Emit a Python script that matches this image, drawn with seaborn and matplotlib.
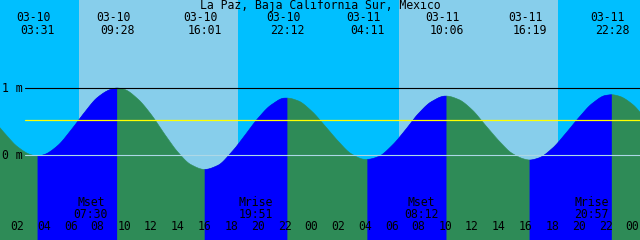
import numpy as np
import pandas as pd
import matplotlib
matplotlib.use("Agg")
import matplotlib.pyplot as plt
import matplotlib.transforms as mtransforms
import seaborn as sns

# ---------------- data ----------------
title = "La Paz, Baja California Sur, Mexico"

# hourly tide heights (m), hours since 03-10 00:00
hours = list(range(0, 50))
heights = [0.58, 0.34, 0.13, 0.01, 0.01, 0.14, 0.37, 0.63, 0.86, 0.98,
           0.98, 0.84, 0.61, 0.32, 0.05, -0.14, -0.21, -0.15, 0.04, 0.29,
           0.55, 0.75, 0.85, 0.81, 0.66, 0.44, 0.21, 0.02, -0.06, -0.02,
           0.14, 0.37, 0.62, 0.80, 0.88, 0.83, 0.68, 0.45, 0.22, 0.03,
           -0.06, -0.04, 0.10, 0.32, 0.56, 0.77, 0.89, 0.88, 0.76, 0.54]

# high / low tide events
event_dates = ["03-10", "03-10", "03-10", "03-10", "03-11", "03-11", "03-11", "03-11"]
event_times = ["03:31", "09:28", "16:01", "22:12", "04:11", "10:06", "16:19", "22:28"]
event_heights = [-0.01, 1.00, -0.21, 0.85, -0.06, 0.88, -0.07, 0.90]
event_kinds = ["L", "H", "L", "H", "L", "H", "L", "H"]

# sunrise / sunset
sun_dates = ["03-10", "03-10", "03-11", "03-11"]
sun_times = ["06:38", "18:30", "06:34", "18:26"]

# moon events
moon_labels = ["Mset", "Mrise", "Mset", "Mrise"]
moon_dates = ["03-10", "03-10", "03-11", "03-11"]
moon_times = ["07:30", "19:51", "08:12", "20:57"]

mean_level = 0.52
depth_levels = [0, 1]
depth_labels = ["0 m", "1 m"]
tick_hours = list(range(2, 49, 2))

# ---------------- helpers ----------------
day_offset = {"03-10": 0, "03-11": 24}


def to_hours(d, hm):
    hh, mm = hm.split(":")
    return day_offset[d] + int(hh) + int(mm) / 60.0


def pchip(x, y, xs):
    """Monotone cubic (Fritsch-Carlson) curve through the given points."""
    x = np.asarray(x, float)
    y = np.asarray(y, float)
    hk = np.diff(x)
    dk = np.diff(y) / hk
    n = len(x)
    d = np.zeros(n)
    for k in range(1, n - 1):
        if dk[k - 1] * dk[k] > 0:
            w1 = 2 * hk[k] + hk[k - 1]
            w2 = hk[k] + 2 * hk[k - 1]
            d[k] = (w1 + w2) / (w1 / dk[k - 1] + w2 / dk[k])
    d[0] = dk[0]
    d[-1] = dk[-1]
    idx = np.clip(np.searchsorted(x, xs) - 1, 0, n - 2)
    h = hk[idx]
    s = (xs - x[idx]) / h
    h00 = 2 * s**3 - 3 * s**2 + 1
    h10 = s**3 - 2 * s**2 + s
    h01 = -2 * s**3 + 3 * s**2
    h11 = s**3 - s**2
    return h00 * y[idx] + h10 * h * d[idx] + h01 * y[idx + 1] + h11 * h * d[idx + 1]


ev_t = [to_hours(d, t) for d, t in zip(event_dates, event_times)]
sun_t = [to_hours(d, t) for d, t in zip(sun_dates, sun_times)]
moon_t = [to_hours(d, t) for d, t in zip(moon_dates, moon_times)]

# layout (pixels of a 640x240 image)
W, H = 640, 240
px_per_hour = 13.37
x_left = 2 - 17.3 / px_per_hour
zero_px = 155.3
px_per_m = 67.3

NIGHT = "#00BFFF"
DAY = "#87CEEB"
RISE = "#0000FF"
FALL = "#2E8B57"

sns.set_theme(style="white")
plt.rcParams["font.family"] = ["DejaVu Sans Mono", "DejaVu Sans"]

fig = plt.figure(figsize=(6.4, 2.4), dpi=100)
ax = fig.add_axes([0, 0, 1, 1])
xlim = (x_left, x_left + W / px_per_hour)
ylim = ((zero_px - H) / px_per_m, zero_px / px_per_m)
ax.set_xlim(*xlim)
ax.set_ylim(*ylim)
for s in ax.spines.values():
    s.set_visible(False)

# sky: night / day
ax.axvspan(xlim[0], xlim[1], color=NIGHT, lw=0, zorder=0)
for r, s in zip(sun_t[0::2], sun_t[1::2]):
    ax.axvspan(r, s, color=DAY, lw=0, zorder=0.1)

# combined curve data: hourly samples + extrema
df = pd.DataFrame({"t": hours + ev_t, "h": heights + event_heights})
df = df.sort_values("t").reset_index(drop=True)

ts = np.union1d(np.linspace(df["t"].min(), df["t"].max(), 3000), ev_t)
hs = pchip(df["t"].to_numpy(), df["h"].to_numpy(), ts)

rising_int = []
for i, k in enumerate(event_kinds):
    if k == "L" and i + 1 < len(ev_t):
        rising_int.append((ev_t[i], ev_t[i + 1]))
rising = np.zeros(len(ts), dtype=bool)
for a, b in rising_int:
    rising |= (ts >= a - 1e-9) & (ts <= b + 1e-9)

ax.fill_between(ts, ylim[0], hs, color=FALL, lw=0, zorder=1)
ax.fill_between(ts, ylim[0], hs, where=rising, color=RISE, lw=0, zorder=1.1)

# curve edge drawn phase by phase
curve = pd.DataFrame({"t": ts, "h": hs})
bounds = [ts[0]] + ev_t + [ts[-1]]
for a, b in zip(bounds[:-1], bounds[1:]):
    seg = curve[(curve["t"] >= a - 1e-9) & (curve["t"] <= b + 1e-9)]
    is_rise = any(abs(a - ra) < 1e-9 for ra, _ in rising_int)
    sns.lineplot(data=seg, x="t", y="h", color=RISE if is_rise else FALL,
                 lw=0.4, ax=ax, zorder=1.2, sort=False, estimator=None)
ax.set_xlabel("")
ax.set_ylabel("")

# depth lines and mean level
x_start = 25 / W
FS = 8.3
for lv, lab in zip(depth_levels, depth_labels):
    col = "black" if lv != 0 else "#ADD8E6"
    ax.axhline(lv, xmin=x_start, xmax=1, color=col, lw=0.8, zorder=2)
    ypx = zero_px - lv * px_per_m
    ax.text(2 / W, 1 - (ypx + 4) / H, lab, transform=ax.transAxes,
            ha="left", va="baseline", fontsize=FS, color="black", zorder=3)
ax.axhline(mean_level, xmin=x_start, xmax=1, color="#FFFF00", lw=0.9, zorder=2)

blend = mtransforms.blended_transform_factory(ax.transData, ax.transAxes)

# title
ax.text(0.5, 1 - 8.8 / H, title, transform=ax.transAxes, ha="center",
        va="baseline", fontsize=FS, color="black", zorder=3)

# tide event labels
for te, d, tm in zip(ev_t, event_dates, event_times):
    ax.text(te - 4 / px_per_hour, 1 - 21.3 / H, d, transform=blend,
            ha="center", va="baseline", fontsize=FS, color="black", zorder=3)
    ax.text(te, 1 - 34.3 / H, tm, transform=blend,
            ha="center", va="baseline", fontsize=FS, color="black", zorder=3)

# moon labels
for mt, lab, tm in zip(moon_t, moon_labels, moon_times):
    ax.text(mt, 1 - 206.2 / H, lab, transform=blend, ha="center",
            va="baseline", fontsize=FS, color="black", zorder=3)
    ax.text(mt, 1 - 217.8 / H, tm, transform=blend, ha="center",
            va="baseline", fontsize=FS, color="black", zorder=3)

# hour labels
for th in tick_hours:
    ax.text(th, 1 - 229.5 / H, "%02d" % (th % 24), transform=blend,
            ha="center", va="baseline", fontsize=FS, color="black", zorder=3)

# ticks (hour ticks + moon event ticks)
all_ticks = sorted(tick_hours + moon_t)
ax.set_xticks(all_ticks)
ax.set_xticklabels([""] * len(all_ticks))
ax.set_yticks([])
ax.tick_params(axis="x", direction="in", length=7 * 0.72, width=0.75,
               color="black", labelbottom=False, bottom=True, top=False)
ax.xaxis.set_ticks_position("bottom")
for loc, tk in zip(all_ticks, ax.xaxis.get_major_ticks()):
    if abs(loc % 24) < 1e-9:
        tk.tick1line.set_markeredgewidth(2.2)
    tk.tick1line.set_zorder(3)

fig.savefig("out.png", dpi=100)
